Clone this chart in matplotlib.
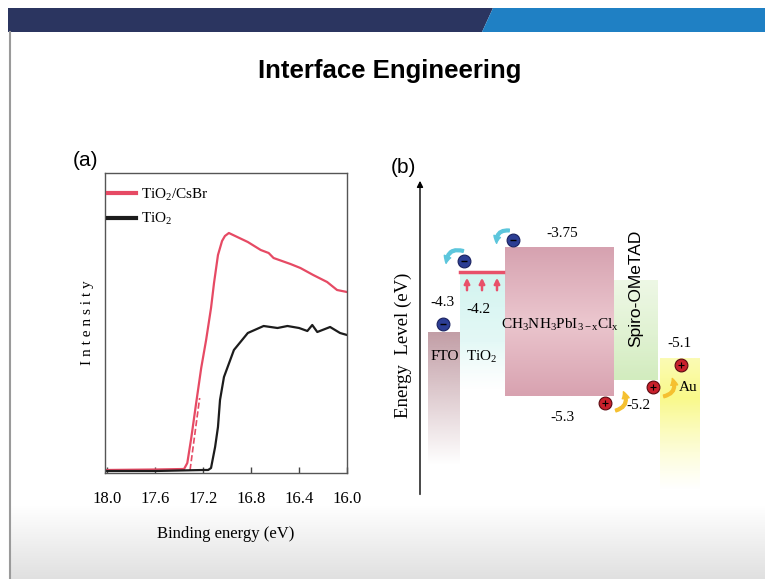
import numpy as np
import matplotlib
matplotlib.use('Agg')
import matplotlib.pyplot as plt
from matplotlib.patches import Polygon, FancyArrowPatch
from matplotlib.colors import to_rgb

plt.rcParams['font.family'] = 'Liberation Serif'
plt.rcParams['mathtext.fontset'] = 'custom'
plt.rcParams['mathtext.rm'] = 'Liberation Serif'
plt.rcParams['mathtext.it'] = 'Liberation Serif:italic'

# ---- (a) UPS cut-off spectra ----
energy_red = [18.02, 17.60, 17.36, 17.333, 17.30, 17.259, 17.217, 17.176, 17.135,
              17.110, 17.077, 17.043, 17.019, 16.986, 16.828, 16.720, 16.654,
              16.613, 16.472, 16.389, 16.282, 16.166, 16.083, 16.0]
int_red = [3, 3.5, 4, 10, 35, 70, 105, 133, 165, 190, 218, 232, 237, 240, 231,
           223, 220, 215, 209, 205, 198, 191, 183, 181]

energy_blk = [18.02, 17.60, 17.20, 17.159, 17.135, 17.101, 17.077, 17.060, 17.027,
              16.944, 16.828, 16.696, 16.580, 16.497, 16.400, 16.331, 16.290,
              16.248, 16.141, 16.058, 16.0]
int_blk = [2, 2, 3, 3, 5, 26, 46, 73, 96, 123, 140, 147, 145, 147, 145, 142, 148,
           141, 146, 140, 138]

energy_fit = [17.31, 17.23]
int_fit = [3, 75]

x_ticks = [18.0, 17.6, 17.2, 16.8, 16.4, 16.0]

# ---- (b) energy level diagram (schematic positions) ----
layer_names = ['FTO', 'TiO2', 'CH3NH3PbI3-xClx', 'Spiro-OMeTAD', 'Au']
layer_x0 = [8, 40, 85, 194, 240]
layer_x1 = [40, 85, 194, 238, 280]
layer_top = [-4.63, -4.00, -3.75, -4.085, -4.90]
layer_bot = [-6.02, -5.24, -5.30, -5.13, -6.28]
# (position, colour, alpha) stops from top to bottom
layer_fill = [
    [(0, '#c29ea6', 1.0), (1, '#c29ea6', 0.0)],
    [(0, '#d2f4f0', 1.0), (0.6, '#d8f6f2', 0.7), (1, '#e4f8f6', 0.0)],
    [(0, '#d6a2b0', 1.0), (0.5, '#ebc6ce', 1.0), (1, '#d8a2b0', 1.0)],
    [(0, '#e2f3d4', 0.6), (1, '#d2ecbe', 1.0)],
    [(0, '#fbfbb4', 1.0), (0.3, '#f9f98a', 1.0), (1, '#fbfbb0', 0.0)],
]

electron_x = [23, 44, 93]
electron_y = [-4.546, -3.886, -3.666]
hole_x = [185, 233, 261]
hole_y = [-5.373, -5.206, -4.975]

level_labels = ['-4.3', '-4.2', '-3.75', '-5.3', '-5.2', '-5.1']
level_label_x = [22, 58, 142, 142, 218, 259]
level_label_y = [-4.326, -4.389, -3.593, -5.520, -5.404, -4.755]

trap_x = [47, 62, 77]
trap_y0 = -4.221
trap_y1 = -4.033

fig = plt.figure(figsize=(7.65, 5.79), dpi=100)

# slide background
bg = fig.add_axes([0, 0, 1, 1], zorder=-1)
bg.set_xlim(0, 765)
bg.set_ylim(579, 0)
bg.axis('off')
bg.add_patch(Polygon([[8, 8], [493, 8], [482, 32], [8, 32]], closed=True,
                     facecolor='#2b3560', edgecolor='none'))
bg.add_patch(Polygon([[493, 8], [765, 8], [765, 32], [482, 32]], closed=True,
                     facecolor='#1f80c4', edgecolor='none'))
grad = np.linspace(1, 0.88, 60).reshape(-1, 1)
bg.imshow(np.dstack([grad] * 3), extent=(10, 765, 579, 505), aspect='auto',
          interpolation='bilinear', zorder=0)
bg.plot([10, 10], [32, 579], color='#9a9a9a', lw=1.5)
bg.set_xlim(0, 765)
bg.set_ylim(579, 0)

fig.text(389.5 / 765, 1 - 78 / 579, 'Interface Engineering',
         family='Liberation Sans', weight='bold',
         fontsize=18.5, ha='center', va='baseline')
fig.text(86 / 765, 1 - 161 / 579, '(a)', family='Liberation Sans',
         fontsize=15, ha='center', va='center')
fig.text(403 / 765, 1 - 167 / 579, '(b)', family='Liberation Sans',
         fontsize=15, ha='center', va='center')

# ---- panel (a) ----
ax1 = fig.add_axes([105 / 765, 1 - 473 / 579, 242 / 765, 300 / 579])
ax1.plot(energy_red, int_red, color='#e64a64', lw=1.6, label='TiO$_2$/CsBr')
ax1.plot(energy_fit, int_fit, color='#e64a64', lw=1.2, ls='--')
ax1.plot(energy_blk, int_blk, color='#1c1c1c', lw=1.6, label='TiO$_2$')
ax1.set_xlim(18.02, 16.0)
ax1.set_ylim(0, 300)
ax1.set_xticks(x_ticks)
ax1.set_xticklabels([f'{t:.1f}' for t in x_ticks])
ax1.set_yticks([])
ax1.tick_params(axis='x', direction='in', length=4, width=1, pad=13,
                labelsize=12, color='#444444')
for s in ax1.spines.values():
    s.set_color('#555555')
    s.set_linewidth(1)
ax1.set_xlabel('Binding energy (eV)', fontsize=12, labelpad=14)
ax1.set_ylabel('I n t e n s i t y', fontsize=11, labelpad=8)
leg = ax1.legend(loc='upper left', bbox_to_anchor=(-0.012, 0.975), frameon=False,
                 fontsize=11, handlelength=1.8, handletextpad=0.35,
                 labelspacing=0.55, borderpad=0.4, borderaxespad=0)
for h in leg.get_lines():
    h.set_linewidth(3)

# ---- panel (b) ----
ax2 = fig.add_axes([420 / 765, 1 - 500 / 579, 300 / 765, 322 / 579])
ax2.set_xlim(0, 300)
ax2.set_ylim(-6.389, -3.017)
ax2.axis('off')

for x0, x1, top, bot, stops in zip(layer_x0, layer_x1, layer_top, layer_bot, layer_fill):
    pos = np.linspace(0, 1, 120)
    sp = [p for p, c, a in stops]
    rgb = np.array([to_rgb(c) for p, c, a in stops])
    alp = [a for p, c, a in stops]
    img = np.zeros((120, 1, 4))
    for k in range(3):
        img[:, 0, k] = np.interp(pos, sp, rgb[:, k])
    img[:, 0, 3] = np.interp(pos, sp, alp)
    ax2.imshow(img, extent=(x0, x1, bot, top), aspect='auto', origin='upper',
               interpolation='bilinear', zorder=1)
ax2.set_xlim(0, 300)
ax2.set_ylim(-6.389, -3.017)

ax2.annotate('', xy=(0, -3.017), xytext=(0, -6.36),
             arrowprops=dict(arrowstyle='-|>', color='k', lw=1, mutation_scale=9),
             annotation_clip=False)

# trap states on TiO2
ax2.plot([layer_x0[1], layer_x1[1] - 2], [layer_top[1], layer_top[1]],
         color='#e8506a', lw=2.5, zorder=3)
for tx in trap_x:
    ax2.annotate('', xy=(tx, trap_y1), xytext=(tx, trap_y0),
                 arrowprops=dict(arrowstyle='-|>', color='#e8506a', lw=1.8,
                                 mutation_scale=8), zorder=3)

# charge transfer arrows
for (xa, ya), (xb, yb) in [((46, -3.79), (26, -3.94)), ((92, -3.57), (77, -3.73))]:
    ax2.add_patch(FancyArrowPatch((xa, ya), (xb, yb), connectionstyle='arc3,rad=0.7',
                                  arrowstyle='simple,head_width=5,head_length=5,tail_width=2',
                                  color='#5cc6dc', zorder=4))
for (xa, ya), (xb, yb) in [((193, -5.46), (202, -5.23)), ((241, -5.31), (251, -5.09))]:
    ax2.add_patch(FancyArrowPatch((xa, ya), (xb, yb), connectionstyle='arc3,rad=0.7',
                                  arrowstyle='simple,head_width=5,head_length=5,tail_width=2',
                                  color='#f5c030', zorder=4))

ax2.scatter(electron_x, electron_y, s=85, color='#2c3e94', edgecolor='#1a2260',
            lw=0.8, zorder=5)
ax2.scatter(electron_x, electron_y, s=18, marker='_', color='k', lw=1, zorder=6)
ax2.scatter(hole_x, hole_y, s=85, color='#c8202c', edgecolor='#5a0a10', lw=0.8, zorder=5)
ax2.scatter(hole_x, hole_y, s=14, marker='+', color='k', lw=0.8, zorder=6)

for lab, lx, ly in zip(level_labels, level_label_x, level_label_y):
    ax2.text(lx, ly, lab, fontsize=11, ha='center', va='center', zorder=6)

ax2.text(25, -4.891, 'FTO', fontsize=11, ha='center', va='center', zorder=6)
ax2.text(62, -4.891, 'TiO$_2$', fontsize=11, ha='center', va='center', zorder=6)
ax2.text(140, -4.556, r'CH$_3$NH$_3$PbI$_{\mathrm{3-x}}$Cl$_\mathrm{x}$', fontsize=11,
         ha='center', va='center', zorder=6)
ax2.text(216, -4.169, 'Spiro-OMeTAD', family='Liberation Sans', fontsize=12.5,
         rotation=90, ha='center', va='center', zorder=6)
ax2.text(268, -5.216, 'Au', fontsize=11, ha='center', va='center', zorder=6)

fig.text(403 / 765, 1 - 345 / 579, 'Energy  Level (eV)', fontsize=13.5, rotation=90,
         ha='center', va='center')

fig.savefig('out.png', dpi=100)
